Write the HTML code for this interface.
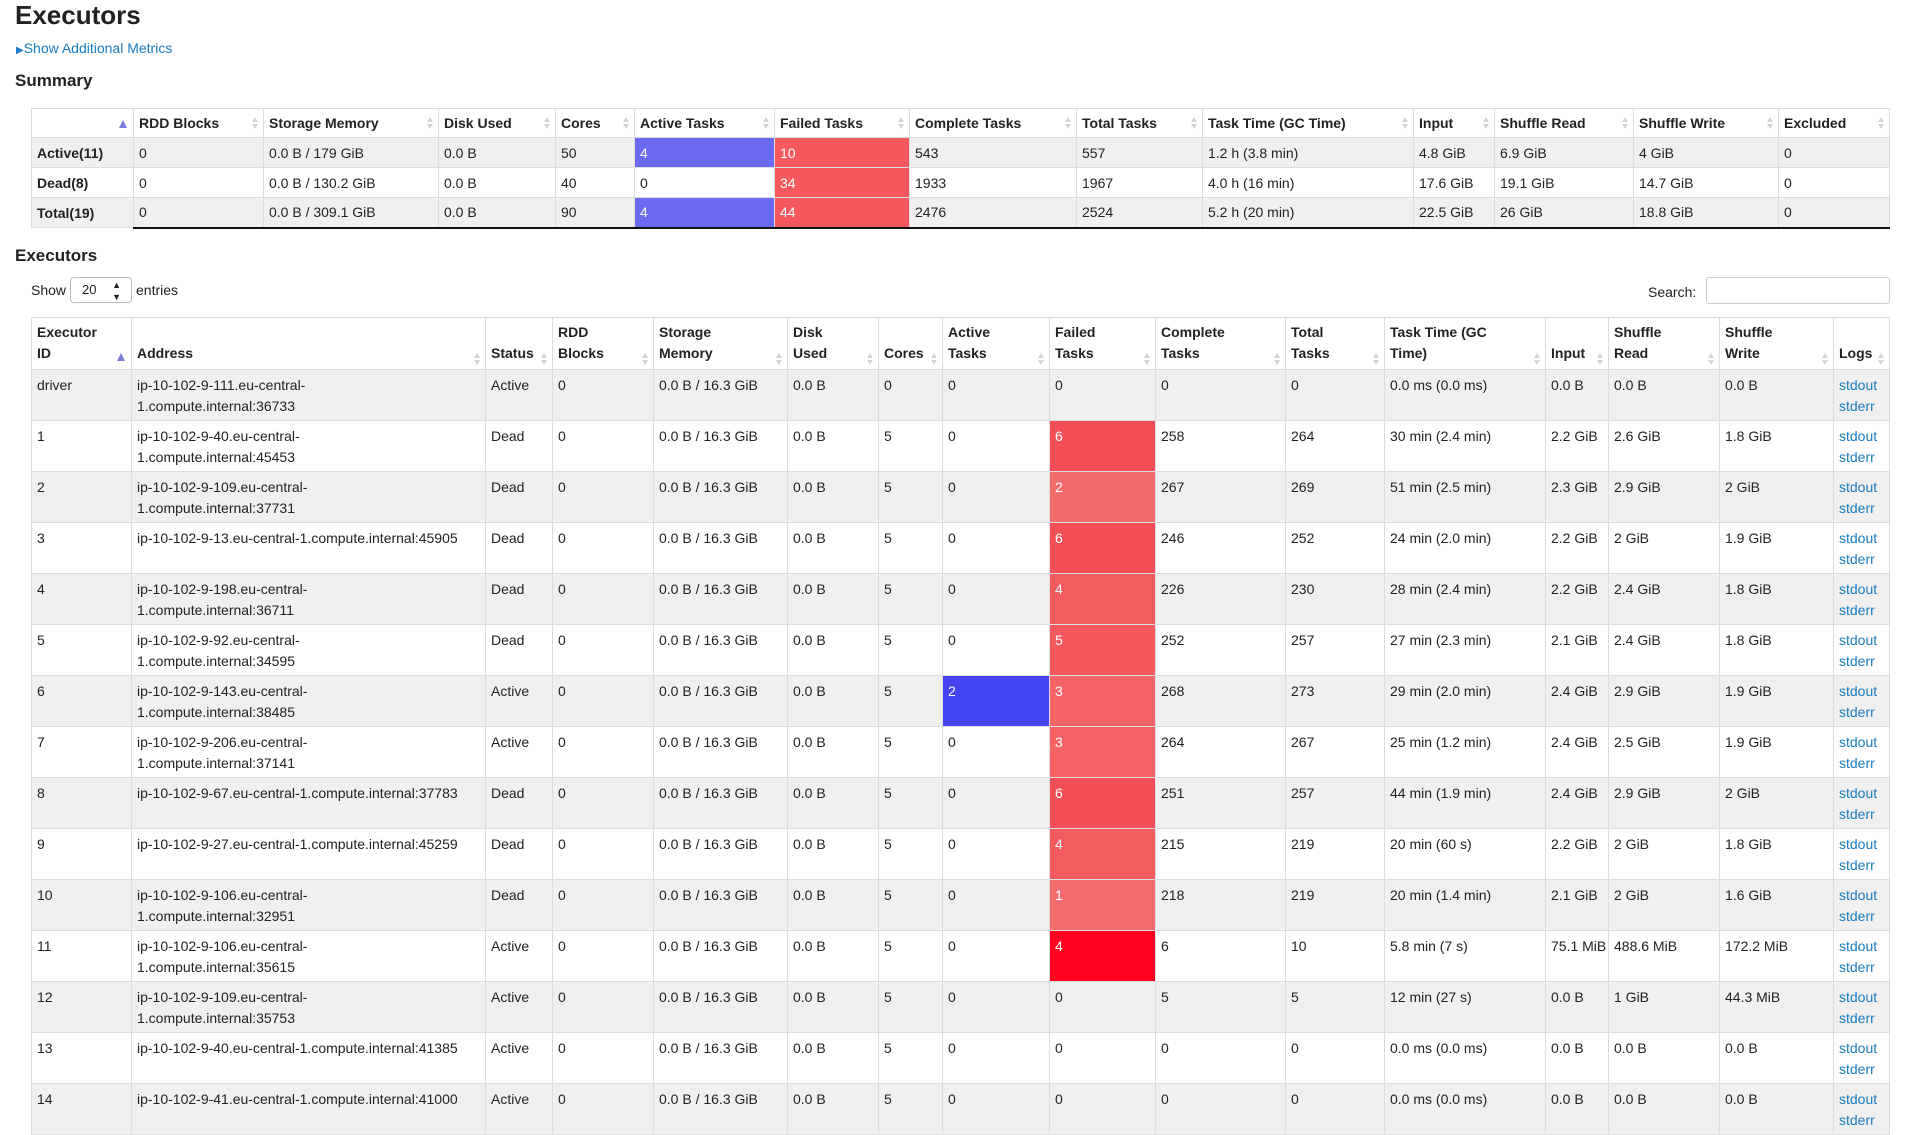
<!DOCTYPE html>
<html><head><meta charset="utf-8">
<style>
*{box-sizing:border-box}
body{margin:0;width:1920px;height:1076px;overflow:hidden;background:#fff;font-family:"Liberation Sans",Helvetica,Arial,sans-serif;font-size:14px;color:#222;position:relative}
.abs{position:absolute}
h1{position:absolute;left:15px;top:0;margin:0;font-size:26px;font-weight:bold;line-height:30px;color:#222}
h4{position:absolute;margin:0;font-size:17px;font-weight:bold;color:#222}
a{color:#1a7cc0;text-decoration:none}
table{position:absolute;border-collapse:collapse;table-layout:fixed}
td,th{border:1px solid #ddd;padding:0 5px;text-align:left;overflow:hidden;white-space:nowrap;position:relative}
th{font-weight:bold}
#sum{left:31px;top:108px;width:1858px}
#sum th{height:29px}
#sum td{height:30px}
#sum tbody tr:last-child td{border-bottom:2px solid #111}
#main{left:31px;top:317px;width:1858px}
#main th{height:52px;vertical-align:bottom;padding-bottom:5px;padding-right:18px;line-height:21px;white-space:nowrap}
#main td{height:51px;vertical-align:top;padding-top:5px;line-height:21px;white-space:nowrap;overflow:visible}
tr.g td{background:#f0f0f0}
.srt::after{content:"";position:absolute;right:5px;bottom:4px;width:0;height:0;border-left:3.5px solid transparent;border-right:3.5px solid transparent;border-bottom:5px solid #d4d4d4;transform:translateY(-7px)}
.srt::before{content:"";position:absolute;right:5px;bottom:4px;width:0;height:0;border-left:3.5px solid transparent;border-right:3.5px solid transparent;border-top:5px solid #d4d4d4}
#sum .srt::before,#sum .srt::after{bottom:8px}
.asc::after{content:"";position:absolute;right:6px;bottom:9px;width:0;height:0;border-left:4.5px solid transparent;border-right:4.5px solid transparent;border-bottom:8px solid #7a7ad8}
#main .asc::after{bottom:8px}
td.blue{background:#6a6af0!important;color:#fff}
td.blue2{background:#4444f3!important;color:#fff}
td.red{color:#fff}
</style></head><body>
<h1>Executors</h1>
<a class="abs" style="left:16px;top:40px;font-size:14px" href="#"><span style="font-size:10px">&#9654;</span>Show Additional Metrics</a>
<h4 style="left:15px;top:71px">Summary</h4>
<table id="sum">
<colgroup><col style="width:102px"><col style="width:130px"><col style="width:175px"><col style="width:117px"><col style="width:79px"><col style="width:140px"><col style="width:135px"><col style="width:167px"><col style="width:126px"><col style="width:211px"><col style="width:81px"><col style="width:139px"><col style="width:145px"><col style="width:111px"></colgroup>
<thead><tr id="sumhead"></tr></thead><tbody id="sumbody"></tbody></table>
<h4 style="left:15px;top:246px">Executors</h4>
<div class="abs" style="left:31px;top:280px;line-height:20px">Show</div>
<div class="abs" style="left:70px;top:277px;width:62px;height:26px;border:1px solid #bbb;border-radius:4px;font-size:13px;line-height:24px;padding-left:11px">20<span style="position:absolute;right:10px;top:0;font-size:9px;line-height:12px;top:1px">&#9650;<br>&#9660;</span></div>
<div class="abs" style="left:136px;top:280px;line-height:20px">entries</div>
<div class="abs" style="left:1648px;top:282px;line-height:20px">Search:</div>
<div class="abs" style="left:1706px;top:277px;width:184px;height:27px;border:1px solid #ccc;border-radius:3px"></div>
<table id="main">
<colgroup><col style="width:100px"><col style="width:354px"><col style="width:67px"><col style="width:101px"><col style="width:134px"><col style="width:91px"><col style="width:64px"><col style="width:107px"><col style="width:106px"><col style="width:130px"><col style="width:99px"><col style="width:161px"><col style="width:63px"><col style="width:111px"><col style="width:114px"><col style="width:56px"></colgroup>
<thead><tr id="mainhead"></tr></thead><tbody id="mainbody"></tbody></table>
<script>
const sumHeaders=["","RDD Blocks","Storage Memory","Disk Used","Cores","Active Tasks","Failed Tasks","Complete Tasks","Total Tasks","Task Time (GC Time)","Input","Shuffle Read","Shuffle Write","Excluded"];
const sumRows=[
["Active(11)","0","0.0 B / 179 GiB","0.0 B","50","4","10","543","557","1.2 h (3.8 min)","4.8 GiB","6.9 GiB","4 GiB","0"],
["Dead(8)","0","0.0 B / 130.2 GiB","0.0 B","40","0","34","1933","1967","4.0 h (16 min)","17.6 GiB","19.1 GiB","14.7 GiB","0"],
["Total(19)","0","0.0 B / 309.1 GiB","0.0 B","90","4","44","2476","2524","5.2 h (20 min)","22.5 GiB","26 GiB","18.8 GiB","0"]];
const mainHeaders=["Executor|ID","Address","Status","RDD|Blocks","Storage|Memory","Disk|Used","Cores","Active|Tasks","Failed|Tasks","Complete|Tasks","Total|Tasks","Task Time (GC|Time)","Input","Shuffle|Read","Shuffle|Write","Logs"];
const mainRows=[
["driver","ip-10-102-9-111.eu-central-|1.compute.internal:36733","Active","0","0","0","0","0","0.0 ms (0.0 ms)","0.0 B","0.0 B","0.0 B"],
["1","ip-10-102-9-40.eu-central-|1.compute.internal:45453","Dead","5","0","6","258","264","30 min (2.4 min)","2.2 GiB","2.6 GiB","1.8 GiB"],
["2","ip-10-102-9-109.eu-central-|1.compute.internal:37731","Dead","5","0","2","267","269","51 min (2.5 min)","2.3 GiB","2.9 GiB","2 GiB"],
["3","ip-10-102-9-13.eu-central-1.compute.internal:45905","Dead","5","0","6","246","252","24 min (2.0 min)","2.2 GiB","2 GiB","1.9 GiB"],
["4","ip-10-102-9-198.eu-central-|1.compute.internal:36711","Dead","5","0","4","226","230","28 min (2.4 min)","2.2 GiB","2.4 GiB","1.8 GiB"],
["5","ip-10-102-9-92.eu-central-|1.compute.internal:34595","Dead","5","0","5","252","257","27 min (2.3 min)","2.1 GiB","2.4 GiB","1.8 GiB"],
["6","ip-10-102-9-143.eu-central-|1.compute.internal:38485","Active","5","2","3","268","273","29 min (2.0 min)","2.4 GiB","2.9 GiB","1.9 GiB"],
["7","ip-10-102-9-206.eu-central-|1.compute.internal:37141","Active","5","0","3","264","267","25 min (1.2 min)","2.4 GiB","2.5 GiB","1.9 GiB"],
["8","ip-10-102-9-67.eu-central-1.compute.internal:37783","Dead","5","0","6","251","257","44 min (1.9 min)","2.4 GiB","2.9 GiB","2 GiB"],
["9","ip-10-102-9-27.eu-central-1.compute.internal:45259","Dead","5","0","4","215","219","20 min (60 s)","2.2 GiB","2 GiB","1.8 GiB"],
["10","ip-10-102-9-106.eu-central-|1.compute.internal:32951","Dead","5","0","1","218","219","20 min (1.4 min)","2.1 GiB","2 GiB","1.6 GiB"],
["11","ip-10-102-9-106.eu-central-|1.compute.internal:35615","Active","5","0","4","6","10","5.8 min (7 s)","75.1 MiB","488.6 MiB","172.2 MiB"],
["12","ip-10-102-9-109.eu-central-|1.compute.internal:35753","Active","5","0","0","5","5","12 min (27 s)","0.0 B","1 GiB","44.3 MiB"],
["13","ip-10-102-9-40.eu-central-1.compute.internal:41385","Active","5","0","0","0","0","0.0 ms (0.0 ms)","0.0 B","0.0 B","0.0 B"],
["14","ip-10-102-9-41.eu-central-1.compute.internal:41000","Active","5","0","0","0","0","0.0 ms (0.0 ms)","0.0 B","0.0 B","0.0 B"]];
const redShades={"1":"#f36d6f","2":"#f36a6b","3":"#f46467","4":"#f45b5f","5":"#f5585d","6":"#f44f57"};
function kebab(s){return s.toLowerCase().replace(/[^a-z0-9]+/g,'-').replace(/^-|-$/g,'')||'row-label';}
function fillSplit(el,v){v.split('|').forEach((p,pi)=>{if(pi>0)el.appendChild(document.createElement('br'));el.appendChild(document.createTextNode(p));});}
const sh=document.getElementById('sumhead');
sumHeaders.forEach((h,i)=>{const th=document.createElement('th');th.textContent=h;th.className=i===0?'asc':'srt';


sh.appendChild(th);});
const sb=document.getElementById('sumbody');
sumRows.forEach((r,ri)=>{const tr=document.createElement('tr');if(ri!==1)tr.className='g';


r.forEach((v,ci)=>{const td=document.createElement(ci===0?'th':'td');td.textContent=v;
if(ci===0)td.style.background=ri!==1?'#f0f0f0':'#fff';
if(ci===5&&v!=="0")td.className='blue';
if(ci===6&&v!=="0"){td.className='red';td.style.background='#f5595e';}


tr.appendChild(td);});sb.appendChild(tr);});
const mh=document.getElementById('mainhead');
mainHeaders.forEach((h,i)=>{const th=document.createElement('th');fillSplit(th,h);th.className=i===0?'asc':'srt';


mh.appendChild(th);});
const mb=document.getElementById('mainbody');
mainRows.forEach((r,ri)=>{const tr=document.createElement('tr');if(ri%2===0)tr.className='g';


const vals=[r[0],r[1],r[2],"0","0.0 B / 16.3 GiB","0.0 B",r[0]==="driver"?"0":r[3],r[4],r[5],r[6],r[7],r[8],r[9],r[10],r[11]];
vals.forEach((v,ci)=>{const td=document.createElement('td');
fillSplit(td,v);
if(ci===7&&v!=="0")td.className='blue2';
if(ci===8&&v!=="0"){td.className='red';td.style.background=(r[0]==="11")?'#ff0020':(redShades[v]||'#f45b5f');}


tr.appendChild(td);});
const lt=document.createElement('td');
const a1=document.createElement('a');a1.href='#';a1.textContent='stdout';


const a2=document.createElement('a');a2.href='#';a2.textContent='stderr';


lt.appendChild(a1);lt.appendChild(document.createElement('br'));lt.appendChild(a2);


tr.appendChild(lt);mb.appendChild(tr);});
</script>
</body></html>
